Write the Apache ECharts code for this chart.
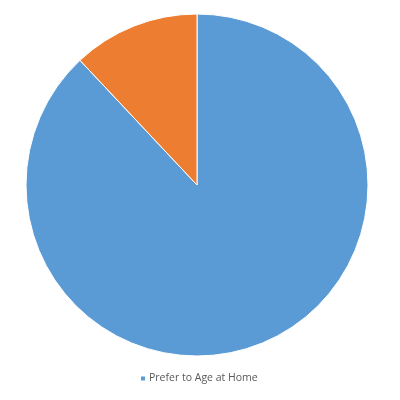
<!DOCTYPE html>
<html><head><meta charset="utf-8">
<script src="https://cdn.jsdelivr.net/npm/echarts@6/dist/echarts.min.js"></script>
<style>html,body{margin:0;padding:0;background:#fff}#c{width:400px;height:400px}</style>
</head><body><div id="c"></div>
<script>
const categories = ['Prefer to Age at Home', 'Other'];
const values = [88, 12];
const legendItems = ['Prefer to Age at Home'];
const colors = ['#5B9BD5', '#ED7D31'];
const chart = echarts.init(document.getElementById('c'));
chart.setOption({
  animation: false,
  color: colors,
  legend: {
    data: legendItems,
    left: 134,
    top: 368,
    itemWidth: 6,
    itemHeight: 6,
    itemGap: 10,
    icon: 'rect',
    textStyle: { fontFamily: 'Open Sans', fontSize: 10.5, color: '#595959', padding: [0, 0, 0, -2] }
  },
  series: [{
    type: 'pie',
    center: [197, 185],
    radius: [0, 171],
    startAngle: 90,
    clockwise: true,
    label: { show: false },
    labelLine: { show: false },
    itemStyle: { borderColor: '#fff', borderWidth: 1 },
    emphasis: { disabled: true },
    data: categories.map((n, i) => ({ name: n, value: values[i] }))
  }]
});
</script></body></html>
